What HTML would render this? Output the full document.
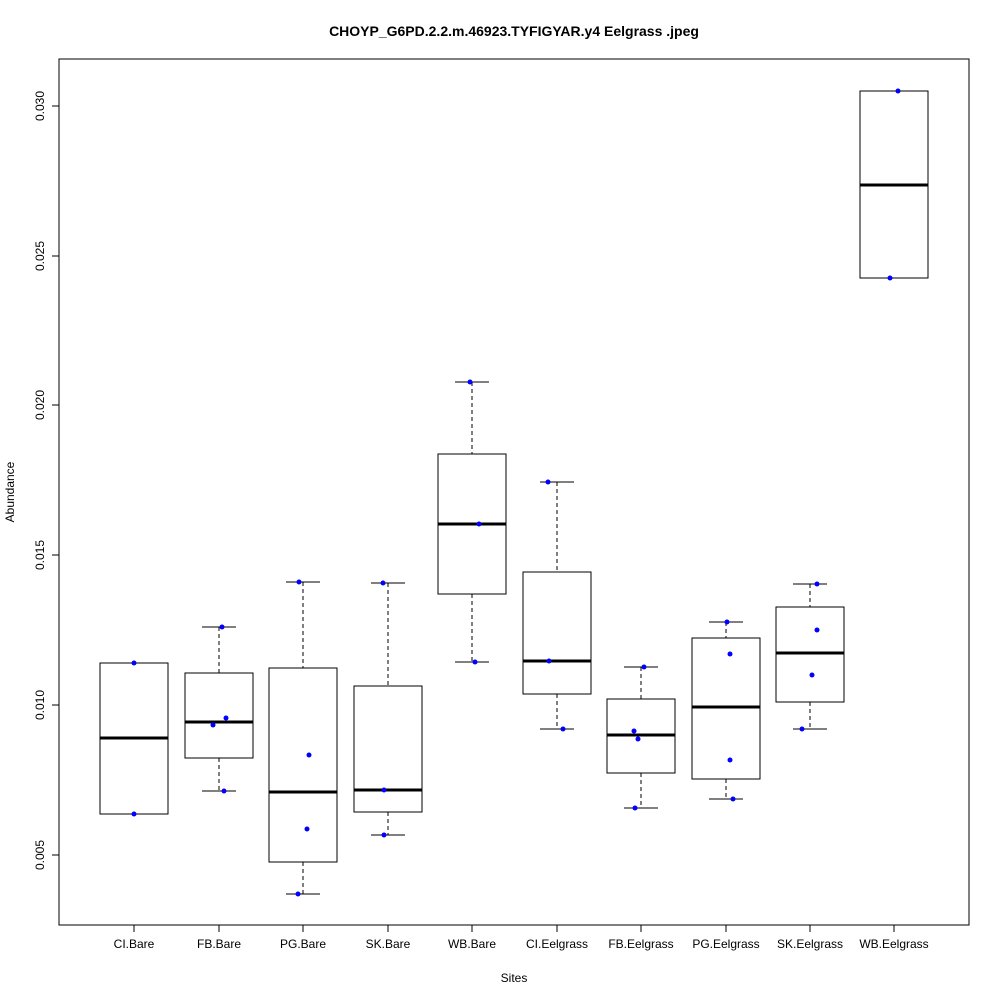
<!DOCTYPE html>
<html><head><style>body{margin:0;background:#fff}</style></head><body>
<svg width="1000" height="1000" xmlns="http://www.w3.org/2000/svg" font-family="Liberation Sans, sans-serif">
<rect width="1000" height="1000" fill="#fff"/>
<text x="514" y="36" font-size="14" font-weight="bold" text-anchor="middle">CHOYP_G6PD.2.2.m.46923.TYFIGYAR.y4 Eelgrass .jpeg</text>
<rect x="59" y="59" width="910" height="866" fill="none" stroke="#000"/>
<g stroke="#000">
<line x1="59" y1="106" x2="59" y2="855"/>
<line x1="52" y1="106" x2="59" y2="106"/><line x1="52" y1="256" x2="59" y2="256"/><line x1="52" y1="405" x2="59" y2="405"/><line x1="52" y1="555" x2="59" y2="555"/><line x1="52" y1="705" x2="59" y2="705"/><line x1="52" y1="855" x2="59" y2="855"/>
<line x1="134" y1="925" x2="894" y2="925"/>
</g>
<g font-size="12" text-anchor="middle">
<text transform="translate(44,106) rotate(-90)">0.030</text>
<text transform="translate(44,256) rotate(-90)">0.025</text>
<text transform="translate(44,405) rotate(-90)">0.020</text>
<text transform="translate(44,555) rotate(-90)">0.015</text>
<text transform="translate(44,705) rotate(-90)">0.010</text>
<text transform="translate(44,855) rotate(-90)">0.005</text>
<text transform="translate(14,492) rotate(-90)">Abundance</text>
<text x="514" y="982">Sites</text>
</g>
<g id="plots" stroke="#000" fill="none"></g>
<g id="pts" fill="#0000ff"></g>
<g id="labs" font-size="12" text-anchor="middle"></g>
</svg>
<script>
var d=[["CI.Bare",134,663,663,814,738,814,[[134,663],[134,814]]],
["FB.Bare",219,627,673,758,722,791,[[222,627],[226,718],[213,725],[224,791]]],
["PG.Bare",303,582,668,862,792,894,[[299,582],[309,755],[307,829],[298,894]]],
["SK.Bare",388,583,686,812,790,835,[[383,583],[384,790],[384,835]]],
["WB.Bare",472,382,454,594,524,662,[[470,382],[479,524],[475,662]]],
["CI.Eelgrass",557,482,572,694,661,729,[[548,482],[549,661],[563,729]]],
["FB.Eelgrass",641,667,699,773,735,808,[[644,667],[634,731],[638,739],[635,808]]],
["PG.Eelgrass",726,622,638,779,707,799,[[727,622],[730,654],[730,760],[733,799]]],
["SK.Eelgrass",810,584,607,702,653,729,[[817,584],[817,630],[812,675],[802,729]]],
["WB.Eelgrass",894,91,91,278,185,278,[[898,91],[890,278]]]];
var g=document.getElementById("plots"),p=document.getElementById("pts"),l=document.getElementById("labs"),s="",ps="",ls="";
d.forEach(function(b){var x=b[1];
s+='<line x1="'+x+'" y1="'+b[2]+'" x2="'+x+'" y2="'+b[3]+'" stroke-dasharray="4,3"/>';
s+='<line x1="'+x+'" y1="'+b[4]+'" x2="'+x+'" y2="'+b[6]+'" stroke-dasharray="4,3"/>';
s+='<line x1="'+(x-17)+'" y1="'+b[2]+'" x2="'+(x+17)+'" y2="'+b[2]+'"/>';
s+='<line x1="'+(x-17)+'" y1="'+b[6]+'" x2="'+(x+17)+'" y2="'+b[6]+'"/>';
s+='<rect x="'+(x-34)+'" y="'+b[3]+'" width="68" height="'+(b[4]-b[3])+'" fill="#fff"/>';
s+='<line x1="'+(x-34)+'" y1="'+b[5]+'" x2="'+(x+34)+'" y2="'+b[5]+'" stroke-width="3"/>';
s+='<line x1="'+x+'" y1="925" x2="'+x+'" y2="932"/>';
b[7].forEach(function(q){ps+='<circle cx="'+q[0]+'" cy="'+q[1]+'" r="2.5"/>';});
ls+='<text x="'+x+'" y="948">'+b[0]+'</text>';});
g.innerHTML=s;p.innerHTML=ps;l.innerHTML=ls;
</script>
</body></html>
